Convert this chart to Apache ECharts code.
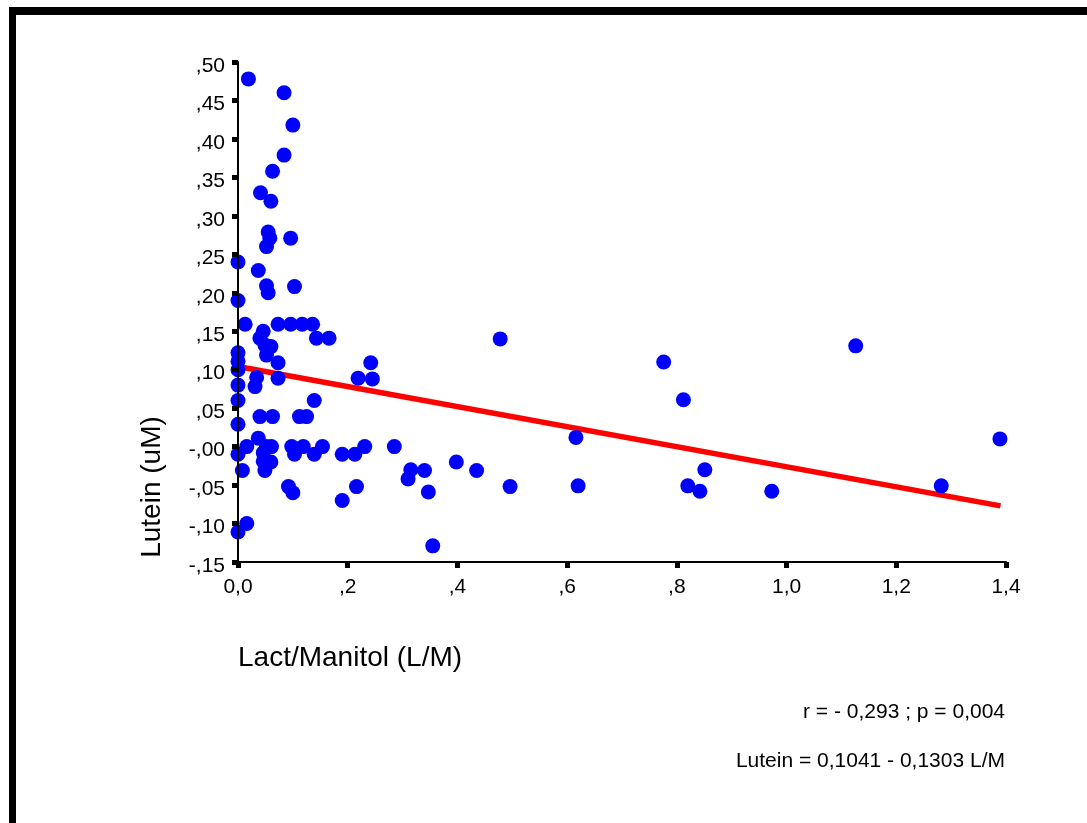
<!DOCTYPE html>
<html>
<head>
<meta charset="utf-8">
<title>Lutein vs Lact/Manitol</title>
<script src="https://cdn.jsdelivr.net/npm/echarts@6/dist/echarts.min.js"></script>
<style>
  html, body { margin: 0; padding: 0; background: #fff; }
  #chart { width: 1087px; height: 823px; }
</style>
</head>
<body>
<div id="chart"></div>
<script>
// Lact/Manitol ratio (x) and Lutein (uM) (y), one entry per subject
var lactManitol = [
  0.019, 0.084, 0.100, 0.084, 0.063, 0.041, 0.060, 0.055, 0.058, 0.052,
  0.096, 0.000, 0.037, 0.052, 0.055, 0.103, 0.000, 0.013, 0.073, 0.096,
  0.117, 0.136, 0.143, 0.166, 0.046, 0.040, 0.049, 0.060, 0.052, 0.000,
  0.000, 0.000, 0.073, 0.034, 0.031, 0.073, 0.000, 0.000, 0.139, 0.219,
  0.242, 0.245, 0.040, 0.063, 0.112, 0.125, 0.000, 0.037, 0.016, 0.000,
  0.061, 0.046, 0.046, 0.060, 0.049, 0.008, 0.098, 0.119, 0.103, 0.139,
  0.154, 0.190, 0.213, 0.231, 0.092, 0.100, 0.216, 0.190, 0.016, 0.000,
  0.285, 0.315, 0.310, 0.340, 0.347, 0.398, 0.435, 0.496, 0.355, 0.478,
  0.776, 0.812, 0.616, 0.620, 0.820, 0.842, 0.851, 0.973, 1.126, 1.282,
  1.389, 0.052
];
var lutein = [
  0.478, 0.460, 0.418, 0.379, 0.358, 0.330, 0.319, 0.279, 0.271, 0.260,
  0.271, 0.240, 0.229, 0.209, 0.200, 0.208, 0.190, 0.159, 0.159, 0.159,
  0.159, 0.159, 0.141, 0.141, 0.150, 0.141, 0.132, 0.130, 0.119, 0.122,
  0.111, 0.100, 0.109, 0.090, 0.078, 0.089, 0.080, 0.060, 0.060, 0.089,
  0.109, 0.088, 0.039, 0.039, 0.039, 0.039, 0.029, 0.011, 0.000, -0.010,
  0.000, -0.008, -0.019, -0.020, -0.031, -0.031, 0.000, 0.000, -0.010, -0.010,
  0.000, -0.010, -0.010, 0.000, -0.052, -0.060, -0.052, -0.070, -0.100, -0.111,
  0.000, -0.030, -0.042, -0.031, -0.059, -0.020, -0.031, -0.052, -0.129, 0.140,
  0.110, 0.061, 0.012, -0.051, -0.051, -0.058, -0.030, -0.058, 0.131, -0.051,
  0.010, 0.000
];

// regression line end points: Lutein = 0,1041 - 0,1303 L/M
var fitX = [0.0, 1.39];
var fitY = [0.1041, -0.0770];

var statsLabel = 'r = - 0,293 ; p = 0,004';
var fitLabel = 'Lutein = 0,1041 - 0,1303 L/M';

var font = 'Arial, "Liberation Sans", sans-serif';

function yFmt(v) {
  var n = Math.round(v * 100);
  var s = String(Math.abs(n));
  if (s.length < 2) s = '0' + s;
  return (n <= 0 ? '-,' : ',') + s;
}
function xFmt(v) {
  var n = Math.round(v * 10);
  if (n === 0) return '0,0';
  if (n < 10) return ',' + n;
  return Math.floor(n / 10) + ',' + (n % 10);
}

var points = lactManitol.map(function (x, i) { return [x, lutein[i]]; });
var fitLine = fitX.map(function (x, i) { return [x, fitY[i]]; });

var chart = echarts.init(document.getElementById('chart'), null, { renderer: 'canvas' });
chart.setOption({
  animation: false,
  backgroundColor: '#fff',
  grid: { left: 238, top: 62, width: 768, height: 500 },
  xAxis: {
    type: 'value',
    min: 0, max: 1.4, interval: 0.2,
    z: 5,
    axisLine: { onZero: false, lineStyle: { color: '#000', width: 2 } },
    axisTick: { show: true, length: 6, lineStyle: { color: '#000', width: 5 } },
    axisLabel: { color: '#000', fontSize: 21, fontFamily: font, margin: 15, formatter: xFmt },
    splitLine: { show: false }
  },
  yAxis: {
    type: 'value',
    min: -0.15, max: 0.5, interval: 0.05,
    z: 5,
    axisLine: { show: true, onZero: false, lineStyle: { color: '#000', width: 2 } },
    axisTick: { show: true, length: 6, lineStyle: { color: '#000', width: 5 } },
    axisLabel: {
      color: '#000', fontSize: 21, fontFamily: font, margin: 13,
      verticalAlign: 'top', lineHeight: 8, formatter: yFmt
    },
    splitLine: { show: false }
  },
  series: [
    {
      type: 'line',
      data: fitLine,
      symbol: 'none',
      lineStyle: { color: '#ff0000', width: 5.5 },
      z: 1
    },
    {
      type: 'scatter',
      data: points,
      symbol: 'circle',
      symbolSize: 15,
      itemStyle: { color: '#0000ff', opacity: 1 },
      z: 2
    }
  ],
  graphic: [
    { type: 'rect', shape: { x: 9, y: 7, width: 1078, height: 8 }, style: { fill: '#000' } },
    { type: 'rect', shape: { x: 9, y: 7, width: 7, height: 816 }, style: { fill: '#000' } },
    {
      type: 'text', x: 152, y: 487, rotation: Math.PI / 2,
      style: { text: 'Lutein (uM)', fill: '#000', font: '28px ' + font, align: 'center', verticalAlign: 'middle' }
    },
    {
      type: 'text', x: 238, y: 658,
      style: { text: 'Lact/Manitol (L/M)', fill: '#000', font: '28px ' + font, align: 'left', verticalAlign: 'middle' }
    },
    {
      type: 'text', x: 1005, y: 712,
      style: { text: statsLabel, fill: '#000', font: '21px ' + font, align: 'right', verticalAlign: 'middle' }
    },
    {
      type: 'text', x: 1005, y: 761,
      style: { text: fitLabel, fill: '#000', font: '21px ' + font, align: 'right', verticalAlign: 'middle' }
    }
  ]
});
</script>
</body>
</html>
